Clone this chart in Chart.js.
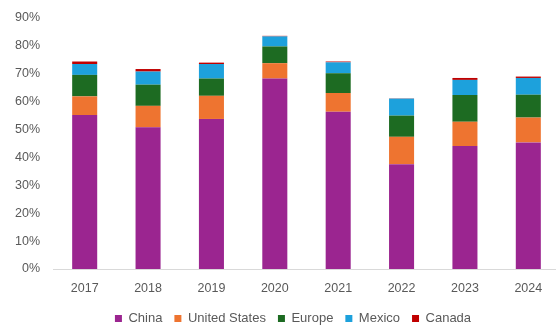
<!DOCTYPE html>
<html>
<head>
<meta charset="utf-8">
<script src="https://cdn.jsdelivr.net/npm/chart.js@4"></script>
<style>
html,body{margin:0;padding:0;background:#fff;overflow:hidden;}
#wrap{position:relative;width:560px;height:326px;}
</style>
</head>
<body>
<div id="wrap"><canvas id="c"></canvas></div>
<script>
const years = ['2017','2018','2019','2020','2021','2022','2023','2024'];
const china = [55.2, 50.8, 53.8, 68.3, 56.4, 37.6, 44.1, 45.4];
const unitedStates = [6.7, 7.7, 8.3, 5.5, 6.7, 9.8, 8.7, 8.9];
const europe = [7.7, 7.6, 6.2, 6.0, 7.1, 7.6, 9.6, 8.2];
const mexico = [3.9, 4.7, 5.2, 3.6, 3.9, 6.1, 5.4, 6.0];
const canada = [0.9, 0.9, 0.5, 0.2, 0.3, 0.1, 0.7, 0.5];
const yTicks = [0,10,20,30,40,50,60,70,80,90];

const mk = (label, data, color) => ({label, data, backgroundColor: color, borderWidth: 0,
  categoryPercentage: 1.0, barPercentage: 0.395});
const FONT = 'Liberation Sans, Arial, sans-serif';

const legendShift = {
  id: 'legendShift',
  afterLayout(chart) {
    const l = chart.legend;
    if (l) { l.left += 13; l.right += 13; }
  }
};

new Chart(document.getElementById('c'), {
  type: 'bar',
  data: {
    labels: years,
    datasets: [
      mk('China', china, '#9B2590'),
      mk('United States', unitedStates, '#EE7430'),
      mk('Europe', europe, '#1D6B22'),
      mk('Mexico', mexico, '#1DA1DC'),
      mk('Canada', canada, '#C00000')
    ]
  },
  plugins: [legendShift],
  options: {
    responsive: true,
    maintainAspectRatio: false,
    animation: false,
    layout: {padding: {top: 18, left: 0, right: 0, bottom: -9}},
    plugins: {
      tooltip: {enabled: false},
      legend: {
        position: 'bottom',
        labels: {
          boxWidth: 7, boxHeight: 7, padding: 12,
          color: '#595959',
          font: {family: FONT, size: 13}
        }
      }
    },
    scales: {
      x: {
        stacked: true,
        grid: {display: false},
        border: {display: true, color: '#D9D9D9', width: 1},
        ticks: {color: '#595959', padding: 4,
          font: {family: FONT, size: 12.5}}
      },
      y: {
        stacked: true,
        min: 0, max: 90,
        afterFit: s => { s.width = 53; s.paddingTop = 0; },
        afterBuildTicks: s => { s.ticks = yTicks.map(v => ({value: v})); },
        grid: {display: false, drawTicks: false},
        border: {display: false},
        ticks: {color: '#595959', padding: 13,
          callback: v => v + '%',
          font: {family: FONT, size: 12.5}}
      }
    }
  }
});
</script>
</body>
</html>
